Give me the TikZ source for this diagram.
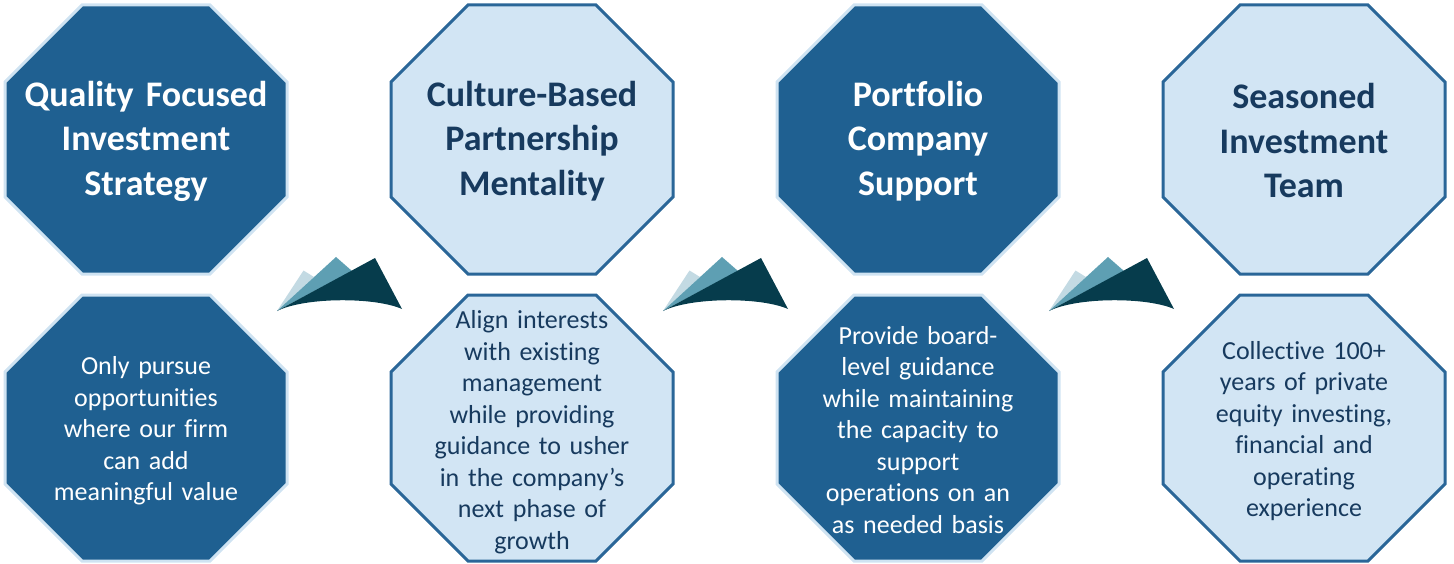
\documentclass[tikz,border=0pt]{standalone}
\usepackage{fontspec}
\setmainfont{Carlito}[Ligatures={NoCommon}, BoldFeatures={WordSpace=0.8}]

\definecolor{octdark}{HTML}{1F6091}
\definecolor{octlight}{HTML}{D2E5F4}
\definecolor{edgedark}{HTML}{2A6698}
\definecolor{edgelight}{HTML}{CFE3F2}
\definecolor{navytext}{HTML}{173A5E}
\definecolor{peaklight}{HTML}{C3DAE3}
\definecolor{peakmid}{HTML}{5E9FB3}
\definecolor{peakdark}{HTML}{063C4C}

% octagon: centre x, centre y, half height, style
\newcommand{\octagon}[4]{%
  \draw[#4] (#1-141,#2-#3+77) -- (#1-64,#2-#3) -- (#1+64,#2-#3)
    -- (#1+141,#2-#3+77) -- (#1+141,#2+#3-77) -- (#1+64,#2+#3)
    -- (#1-64,#2+#3) -- (#1-141,#2+#3-77) -- cycle;}

\begin{document}
\begin{tikzpicture}[
            x=1pt, y=-1pt,
            darkoct/.style={fill=octdark, draw=edgelight, line width=3pt},
            lightoct/.style={fill=octlight, draw=edgedark, line width=3pt},
            title/.style={align=center, text width=270pt,
                            font=\bfseries\fontsize{36}{44.5}\selectfont},
            body/.style={align=center, text width=270pt,
                            font=\fontsize{26}{31.5}\selectfont}
        ]
            \useasboundingbox (0,0) rectangle (1454,564);

            % octagons
            \octagon{146}{139.5}{134.5}{darkoct}
            \octagon{532}{139.5}{134.5}{lightoct}
            \octagon{918}{139.5}{134.5}{darkoct}
            \octagon{1304}{139.5}{134.5}{lightoct}
            \octagon{146}{428}{133}{darkoct}
            \octagon{532}{428}{133}{lightoct}
            \octagon{918}{428}{133}{darkoct}
            \octagon{1304}{428}{133}{lightoct}

            % headings
            \node[title, text=white] (quality) at (146,141) {Quality Focused\\Investment\\Strategy};
            \node[title, text=navytext] (culture) at (532,141) {Culture-Based\\Partnership\\Mentality};
            \node[title, text=white] (portfolio) at (918,141) {Portfolio\\Company\\Support};
            \node[title, text=navytext] (seasoned) at (1304,141) {Seasoned\\Investment\\Team};

            % descriptions
            \node[body, text=white] (pursue) at (146,431)
                {Only pursue\\opportunities\\where our firm\\can add\\meaningful value};
            \node[body, text=navytext] (align) at (532,432)
                {Align interests\\with existing\\management\\while providing\\guidance to usher\\in the company’s\\next phase of\\growth};
            \node[body, text=white] (board) at (918,430)
                {Provide board-\\level guidance\\while maintaining\\the capacity to\\support\\operations on an\\as needed basis};
            \node[body, text=navytext] (collective) at (1304,431)
                {Collective 100+\\years of private\\equity investing,\\financial and\\operating\\experience};

            % peak arrows between the columns
            \foreach \dx in {0,386,772} {
                \begin{scope}[xshift=\dx pt]
                    \fill[peaklight] (277,311) -- (303.5,270.5) -- (314,277) -- cycle;
                    \fill[peakmid] (277,311) -- (336,257) -- (352,271) -- cycle;
                    \fill[peakdark] (277,311) -- (375,258) -- (402,309)
                        .. controls (375,297) and (305,297) .. (277,311) -- cycle;
                \end{scope}
            }

        \end{tikzpicture}
\end{document}
